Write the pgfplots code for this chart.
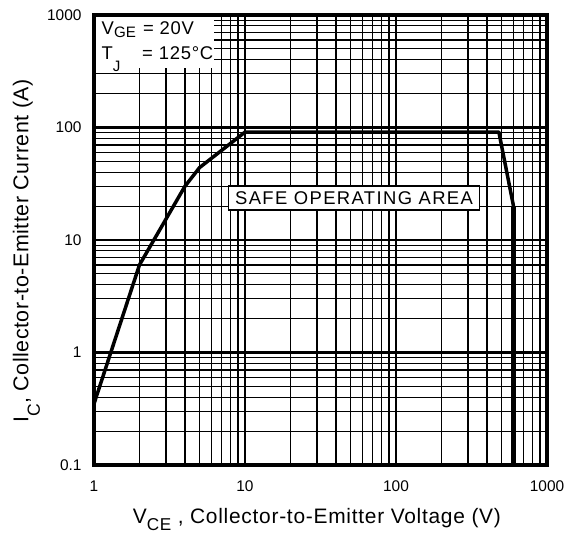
\documentclass[border=0pt]{standalone}
\usepackage{fontspec}
\setmainfont{Liberation Sans}
\usepackage{pgfplots}
\pgfplotsset{compat=1.18}
\newcommand{\sub}[2]{\raisebox{-#1}{\scalebox{0.82}{#2}}}
\begin{document}
\begin{tikzpicture}
\begin{axis}[
  at={(0,0)}, anchor=south west,
  width=453bp, height=450bp, scale only axis,
  xmode=log, ymode=log,
  xmin=1, xmax=1000, ymin=0.1, ymax=1000,
  xtick={1,10,100,1000}, xticklabels={1,10,100,1000},
  ytick={0.1,1,10,100,1000}, yticklabels={0.1,1,10,100,1000},
  minor xtick={2,3,4,5,6,7,8,9,20,30,40,50,60,70,80,90,200,300,400,500,600,700,800,900},
  minor ytick={0.2,0.3,0.4,0.5,0.6,0.7,0.8,0.9,2,3,4,5,6,7,8,9,20,30,40,50,60,70,80,90,200,300,400,500,600,700,800,900},
  grid=both,
  major grid style={black, line width=2.2bp},
  minor grid style={black, line width=1.2bp},
  axis line style={black, line width=3.5bp},
  major tick length=0pt, minor tick length=0pt,
  tick style={draw=none},
  ticklabel style={font=\fontsize{15.5}{17}\selectfont},
  xticklabel style={yshift=-12bp},
  yticklabel style={xshift=-9bp},
  every axis x label/.style={at={(axis description cs:0.492,0)}, anchor=base, yshift=-58bp},
  every axis y label/.style={at={(axis description cs:0,0.476)}, rotate=90, anchor=base, yshift=65.5bp},
  xlabel={\fontsize{21}{24}\selectfont\addfontfeature{LetterSpace=3.5}V\sub{7bp}{CE} , Collector-to-Emitter Voltage (V)},
  ylabel={\fontsize{21.5}{24}\selectfont\addfontfeature{LetterSpace=2.5}I\sub{11.5bp}{C}, Collector-to-Emitter Current (A)},
]
\addplot[black, line width=3.5bp, line join=round] coordinates {(1,0.35) (2,6) (4,30) (5,44) (10,91) (480,91) (600,20)};
\addplot[black, line width=5bp] coordinates {(600,20) (600,0.1)};
\fill[white] ([xshift=1.75bp]rel axis cs:0,0.882) rectangle ([yshift=-1.75bp]rel axis cs:0.265,1);
\node[inner sep=0pt, anchor=base west, font=\fontsize{18.5}{20}\selectfont] at (rel axis cs:0.0166,0.9556) {V\sub{3bp}{GE}};
\node[inner sep=0pt, anchor=base west, font=\fontsize{18.5}{20}\selectfont\addfontfeature{LetterSpace=4}] at (rel axis cs:0.108,0.9556) {= 20V};
\node[inner sep=0pt, anchor=base west, font=\fontsize{18.5}{20}\selectfont] at (rel axis cs:0.0166,0.9) {T\sub{12bp}{J}};
\node[inner sep=0pt, anchor=base west, font=\fontsize{18.5}{20}\selectfont\addfontfeature{LetterSpace=4}] at (rel axis cs:0.106,0.9) {= 125°C};
\node[draw=black, line width=1.8bp, fill=white, inner xsep=6.5bp, inner ysep=5.5bp, text height=13.5bp, text depth=0bp,
  font=\fontsize{18.5}{20}\selectfont\addfontfeature{LetterSpace=7.5}] at (rel axis cs:0.574,0.593) {SAFE OPERATING AREA};
\end{axis}
\pgfresetboundingbox
\path[use as bounding box] (-94bp,-68bp) rectangle (485bp,465bp);
\end{tikzpicture}
\end{document}
